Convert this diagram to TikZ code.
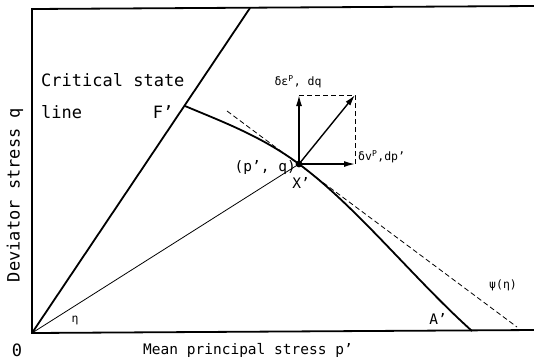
\documentclass[tikz,border=0pt]{standalone}
\usepackage{fontspec}
\setmonofont{DejaVu Sans Mono}
\usetikzlibrary{arrows.meta}
\tikzset{
  thick line/.style={line width=1.8pt},
  thin line/.style={line width=0.8pt},
  dash line/.style={line width=0.8pt, dash pattern=on 5pt off 3pt},
  vec/.style={line width=1.4pt, -{Latex[length=11pt,width=6pt]}},
  lbl/.style={font=\ttfamily\fontsize{17}{17}\selectfont, inner sep=0pt},
  mlbl/.style={font=\ttfamily\fontsize{14.5}{14.5}\selectfont, inner sep=0pt},
  slbl/.style={font=\ttfamily\fontsize{11.5}{11.5}\selectfont, inner sep=0pt},
}
\begin{document}
\begin{tikzpicture}[x=1pt,y=-1pt]
\useasboundingbox (0,0) rectangle (534,360);
% key points
\coordinate (O) at (32,333);
\coordinate (TL) at (32,9);
\coordinate (TR) at (534,6);
\coordinate (BR) at (534,330);
\coordinate (CT) at (250,8);
\coordinate (F) at (185,106);
\coordinate (X) at (299,164);
\coordinate (A) at (472,331);
\coordinate (T1) at (227,111);
\coordinate (T2) at (517,327);
\coordinate (VU) at (299,95);
\coordinate (VR) at (355,164);
\coordinate (VD) at (355,95);
% axes and frame
\draw[thick line] (TR) -- (TL) -- (O) -- (BR);
% critical state line
\draw[thick line] (O) -- (CT);
% eta line
\draw[thin line] (O) -- (X);
% yield curve
\draw[thick line] (F) .. controls (223,122) and (261,136) .. (X)
  .. controls (357,207) and (414,279) .. (A);
% tangent
\draw[dash line] (T1) -- (T2);
% vectors
\draw[dash line] (VU) -- (VD) -- (VR);
\draw[vec] (X) -- (VU);
\draw[vec] (X) -- (VR);
\draw[vec] (X) -- (VD);
\fill (X) circle (3.4pt);
% labels
\node[lbl, anchor=west] (cs1) at (41,80) {Critical state};
\node[lbl, anchor=west] (cs2) at (41,112) {line};
\node[lbl] (Fl) at (163,112) {F’};
\node[mlbl, anchor=east] (pq) at (296,168) {(p’, q)};
\node[mlbl] (Xl) at (301,183) {X’};
\node[mlbl] (Al) at (438,319) {A’};
\node[slbl] (psi) at (503,285) {ψ(η)};
\node[slbl] (eta) at (75,320) {η};
\node[slbl] (de) at (298,82) {δε\textsuperscript{P}, dq};
\node[slbl, anchor=west] (dv) at (358,157) {δv\textsuperscript{P},dp’};
\node[lbl] (zero) at (17,350) {0};
\node[mlbl] (xl) at (248,350) {Mean principal stress p’};
\node[lbl, rotate=90] (yl) at (15,195) {Deviator stress q};
\end{tikzpicture}
\end{document}
